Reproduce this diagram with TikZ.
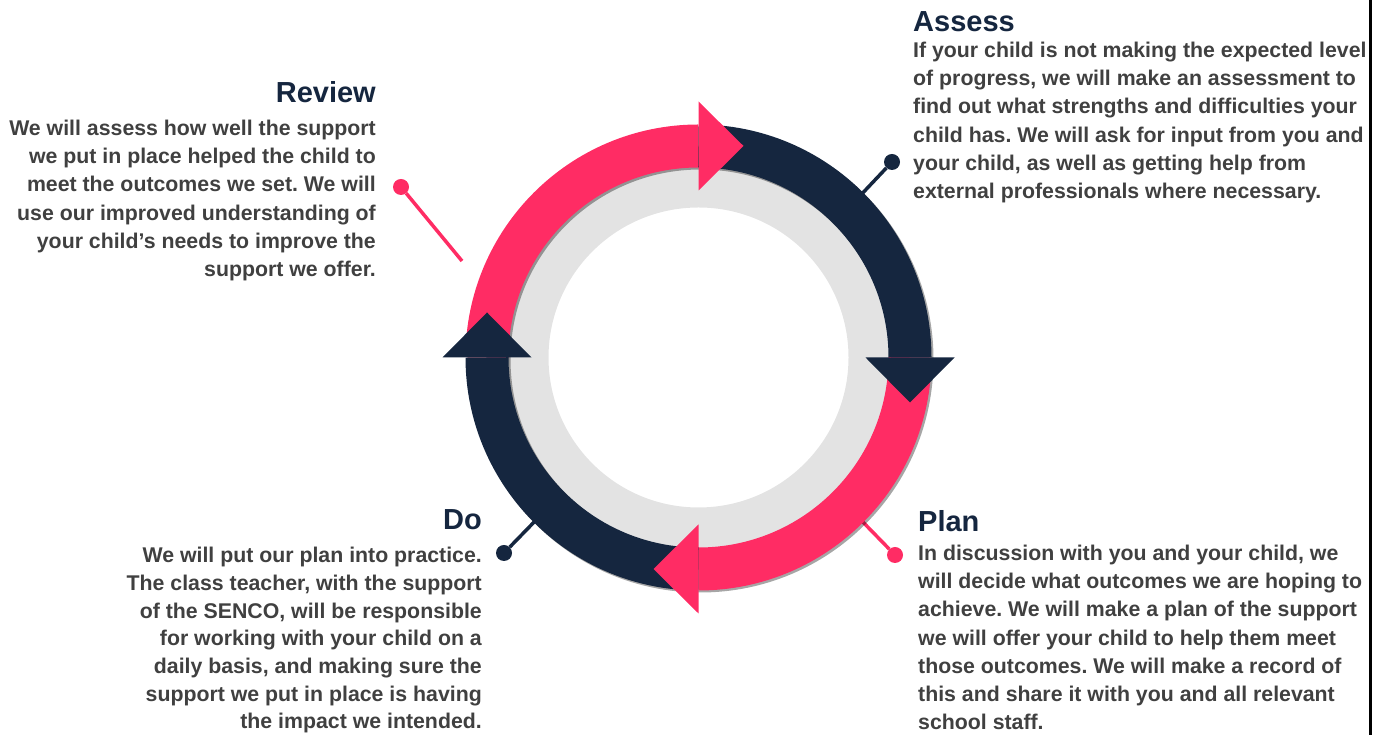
\documentclass[tikz,border=0pt]{standalone}
\usepackage{fontspec}
\setmainfont{Liberation Sans}
\usetikzlibrary{positioning, calc, backgrounds}
\definecolor{MyPink}{HTML}{FF2C64}
\definecolor{MyNavy}{HTML}{15263F}
\definecolor{MyText}{HTML}{404040}
\definecolor{MyRing}{HTML}{E3E3E3}
\frenchspacing

\begin{document}
\begin{tikzpicture} [x=1pt, y=1pt,
			every node/.style={inner sep=0pt, font=\bfseries\fontsize{21.3}{28.3}\selectfont, text=MyText},
			head/.style={font=\bfseries\fontsize{29}{34}\selectfont, text=MyNavy},
			bodyL/.style={align=left},
			bodyR/.style={align=right},
			dot/.style={circle, minimum size=16pt, inner sep=0pt},
			leader/.style={line width=3.5pt}
		]
			\useasboundingbox (0,0) rectangle (1384,735);
			\coordinate (C) at (698.5,377.5);
			% leader lines with dots
			\node at (892,573) [dot, fill=MyNavy] (dotAssess) {};
			\node at (401,548) [dot, fill=MyPink] (dotReview) {};
			\node at (504,182) [dot, fill=MyNavy] (dotDo) {};
			\node at (895,180) [dot, fill=MyPink] (dotPlan) {};
			\coordinate (ringAssess) at ($(C)+(45:225)$);
			\coordinate (endReview) at (462,474);
			\coordinate (ringDo) at ($(C)+(225:225)$);
			\coordinate (ringPlan) at ($(C)+(-45:225)$);
			\draw[leader, MyNavy] (dotAssess) -- (ringAssess);
			\draw[leader, MyPink] (dotReview) -- (endReview);
			\draw[leader, MyNavy] (dotDo) -- (ringDo);
			\draw[leader, MyPink] (dotPlan) -- (ringPlan);
			% ring
			\fill[MyRing, even odd rule] (C) circle[radius=200] (C) circle[radius=150];
			\fill[black, opacity=0.35, even odd rule] ($(C)+(2,-2)$) circle[radius=233] ($(C)+(2,-2)$) circle[radius=190];
			\foreach \a/\col in {180/MyPink, 90/MyNavy, 0/MyPink, -90/MyNavy}
				\draw[\col, line width=43pt] ($(C)+(\a:211.5)$) arc[start angle=\a, end angle=\a-90, radius=211.5];
			\foreach \a/\col in {90/MyPink, 0/MyNavy, -90/MyPink, 180/MyNavy}
				\fill[\col] ($(C)+(\a:167)$) -- ($(C)+(\a:256)$) -- ($(C)+(\a:211.5)+(\a-90:45)$) -- cycle;
			% texts
			\node at (913,703) [head, anchor=base west] (headAssess) {Assess};
			\node at (913,693.5) [bodyL, anchor=north west] (txtAssess) {If your child is not making the expected level\\of progress, we will make an assessment to\\find out what strengths and difficulties your\\child has. We will ask for input from you and\\your child, as well as getting help from\\external professionals where necessary.};
			\node at (376,632) [head, anchor=base east] (headReview) {Review};
			\node at (376,615.5) [bodyR, anchor=north east] (txtReview) {We will assess how well the support\\we put in place helped the child to\\meet the outcomes we set. We will\\use our improved understanding of\\your child’s needs to improve the\\support we offer.};
			\node at (482,205) [head, anchor=base east] (headDo) {Do};
			\node at (482,188) [bodyR, anchor=north east, font=\bfseries\fontsize{21.3}{27.7}\selectfont] (txtDo) {We will put our plan into practice.\\The class teacher, with the support\\of the SENCO, will be responsible\\for working with your child on a\\daily basis, and making sure the\\support we put in place is having\\the impact we intended.};
			\node at (918,203) [head, anchor=base west] (headPlan) {Plan};
			\node at (918,190.5) [bodyL, anchor=north west] (txtPlan) {In discussion with you and your child, we\\will decide what outcomes we are hoping to\\achieve. We will make a plan of the support\\we will offer your child to help them meet\\those outcomes. We will make a record of\\this and share it with you and all relevant\\school staff.};
			% frame edge
			\draw[line width=3.5pt] (1370.5,0) -- (1370.5,735);
		\end{tikzpicture}
\end{document}
